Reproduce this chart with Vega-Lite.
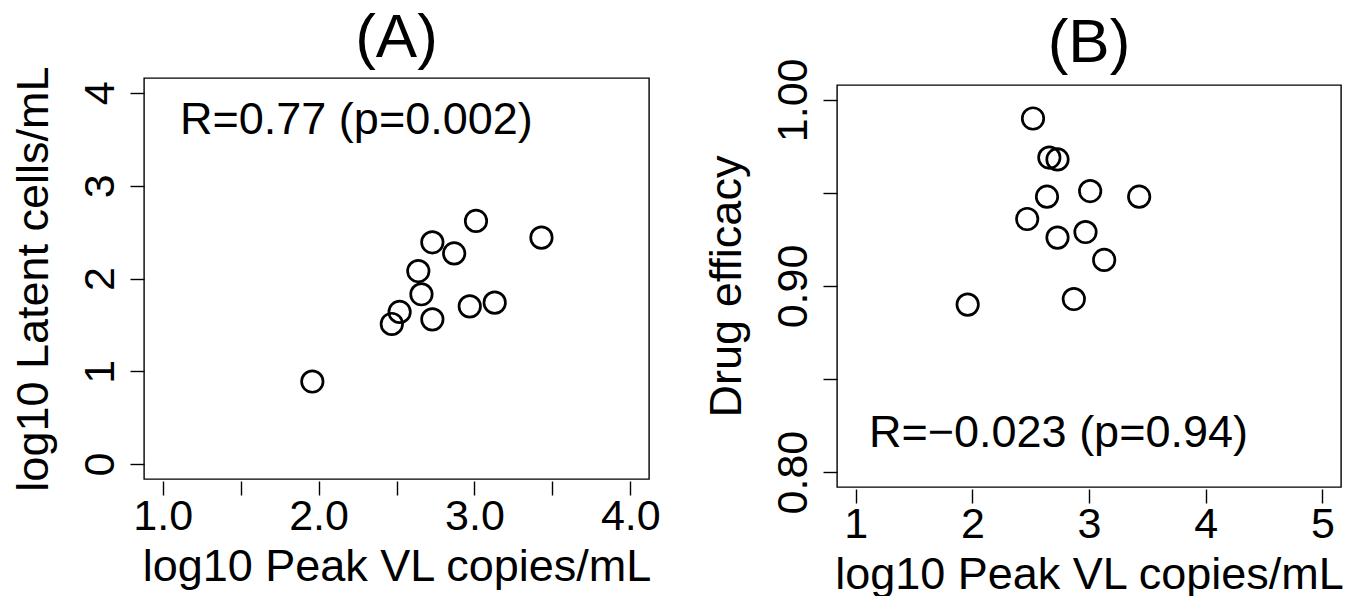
{
  "$schema": "https://vega.github.io/schema/vega-lite/v6.json",
  "background": "white",
  "padding": {"left": 10, "top": 6, "right": 5, "bottom": 5},
  "config": {
    "font": "Liberation Sans",
    "view": {"stroke": "black", "strokeWidth": 1.4},
    "axis": {
      "domain": false, "grid": false, "ticks": true, "tickColor": "black", "tickSize": 14, "tickWidth": 1.4,
      "labelFont": "Liberation Sans", "labelFontSize": 43, "labelColor": "black",
      "titleFont": "Liberation Sans", "titleFontSize": 45, "titleFontWeight": "normal", "titleColor": "black",
      "labelOverlap": false, "labelFlush": false, "labelBound": false
    },
    "axisX": {"offset": 2, "labelBaseline": "alphabetic", "labelPadding": 34, "titleBaseline": "alphabetic", "titleY": 99, "titleAlign": "center"},
    "axisY": {"offset": 0, "titleBaseline": "alphabetic", "titleAngle": 270, "titleAlign": "center", "titleX": -97},
    "title": {"font": "Liberation Sans", "fontSize": 62, "fontWeight": "normal", "color": "black", "anchor": "middle", "baseline": "alphabetic", "frame": "group"}
  },
  "datasets": {
    "pts": [
      {"peakVL": 1.96, "latent": 0.89, "efficacy": 0.890},
      {"peakVL": 2.47, "latent": 1.51, "efficacy": 0.936},
      {"peakVL": 2.52, "latent": 1.64, "efficacy": 0.990},
      {"peakVL": 2.73, "latent": 1.56, "efficacy": 0.926},
      {"peakVL": 2.66, "latent": 1.83, "efficacy": 0.969},
      {"peakVL": 2.64, "latent": 2.08, "efficacy": 0.948},
      {"peakVL": 2.73, "latent": 2.39, "efficacy": 0.968},
      {"peakVL": 2.87, "latent": 2.27, "efficacy": 0.893},
      {"peakVL": 3.01, "latent": 2.62, "efficacy": 0.951},
      {"peakVL": 2.97, "latent": 1.70, "efficacy": 0.929},
      {"peakVL": 3.13, "latent": 1.74, "efficacy": 0.914},
      {"peakVL": 3.43, "latent": 2.44, "efficacy": 0.948}
    ]
  },
  "bounds": "flush",
  "spacing": 188,
  "hconcat": [
    {
      "width": 505,
      "height": 401,
      "title": {"text": "(A)", "offset": -4.6},
      "layer": [
        {
          "data": {"name": "pts"},
          "mark": {"type": "point", "shape": "circle", "filled": false, "stroke": "black", "strokeWidth": 2.7, "size": 460, "opacity": 1},
          "encoding": {
            "x": {"field": "peakVL", "type": "quantitative",
                  "scale": {"domain": [0.88, 4.12], "nice": false, "zero": false},
                  "axis": {"title": "log10 Peak VL copies/mL", "values": [1, 1.5, 2, 2.5, 3, 3.5, 4],
                           "labelExpr": "datum.value % 1 === 0 ? format(datum.value, '.1f') : ''", "titleX": 252.5}},
            "y": {"field": "latent", "type": "quantitative",
                  "scale": {"domain": [-0.16, 4.16], "nice": false, "zero": false},
                  "axis": {"title": "log10 Latent cells/mL", "values": [0, 1, 2, 3, 4], "format": "d", "titleY": 200.5,
                           "labelAngle": -90, "labelAlign": "center", "labelBaseline": "alphabetic", "labelPadding": 16.5}}
          }
        },
        {
          "data": {"values": [{}]},
          "mark": {"type": "text", "text": "R=0.77 (p=0.002)", "align": "left", "baseline": "alphabetic", "fontSize": 45, "font": "Liberation Sans", "color": "black"},
          "encoding": {
            "x": {"datum": 1.111, "type": "quantitative"},
            "y": {"datum": 3.557, "type": "quantitative"}
          }
        }
      ]
    },
    {
      "bounds": "flush",
      "spacing": 6,
      "vconcat": [
        {
          "width": 504,
          "height": 1,
          "view": {"stroke": null},
          "data": {"values": []},
          "mark": "point"
        },
        {
          "width": 504,
          "height": 402,
          "title": {"text": "(B)", "offset": -16.6},
          "layer": [
            {
              "data": {"name": "pts"},
              "mark": {"type": "point", "shape": "circle", "filled": false, "stroke": "black", "strokeWidth": 2.7, "size": 460, "opacity": 1},
              "encoding": {
                "x": {"field": "peakVL", "type": "quantitative",
                      "scale": {"domain": [0.84, 5.16], "nice": false, "zero": false},
                      "axis": {"title": "log10 Peak VL copies/mL", "values": [1, 2, 3, 4, 5], "format": "d", "titleX": 252}},
                "y": {"field": "efficacy", "type": "quantitative",
                      "scale": {"domain": [0.792, 1.008], "nice": false, "zero": false},
                      "axis": {"title": "Drug efficacy", "values": [0.8, 0.85, 0.9, 0.95, 1.0],
                               "labelExpr": "abs(datum.value * 10 - round(datum.value * 10)) < 0.001 ? format(datum.value, '.2f') : ''",
                               "titleY": 201,
                               "labelAngle": -90, "labelAlign": "center", "labelBaseline": "alphabetic", "labelPadding": 16.5}}
              }
            },
            {
              "data": {"values": [{}]},
              "mark": {"type": "text", "text": "R=−0.023 (p=0.94)", "align": "left", "baseline": "alphabetic", "fontSize": 45, "font": "Liberation Sans", "color": "black"},
              "encoding": {
                "x": {"datum": 1.114, "type": "quantitative"},
                "y": {"datum": 0.8135, "type": "quantitative"}
              }
            }
          ]
        }
      ]
    }
  ]
}
